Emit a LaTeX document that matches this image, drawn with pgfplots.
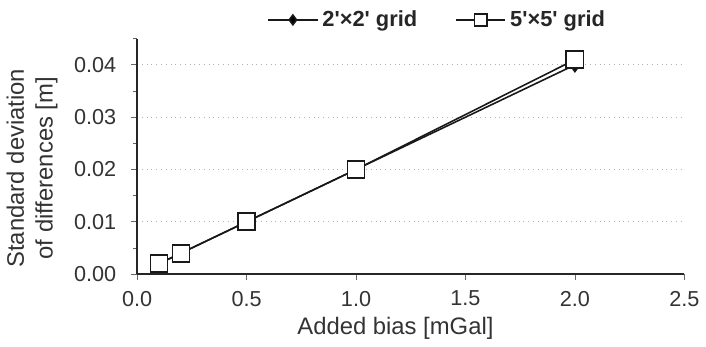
\documentclass[border=0pt]{standalone}
\usepackage{fontspec}
\setmainfont{Liberation Sans}
\usepackage{pgfplots}
\pgfplotsset{compat=1.18}
\begin{document}
\begin{tikzpicture}
\begin{axis}[
  name=ax,
  scale only axis,
  width=275.5pt, height=118.5pt,
  xmin=0, xmax=2.5, ymin=0, ymax=0.045,
  axis lines=left,
  axis line style={black!85, line width=0.7pt, -},
  xtick={0,0.5,1,1.5,2,2.5},
  ytick={0,0.01,0.02,0.03,0.04},
  minor ytick={0.005,0.015,0.025,0.035,0.045},
  tick align=outside,
  major tick length=3pt, minor tick length=2pt,
  tick style={black!60, line width=0.4pt},
  ymajorgrids,
  grid style={gray!60, dotted, line width=0.6pt},
  /pgf/number format/assume math mode=true,
  xticklabel style={yshift=-2pt, /pgf/number format/.cd, fixed, fixed zerofill, precision=1},
  yticklabel style={xshift=-4pt, /pgf/number format/.cd, fixed, fixed zerofill, precision=2},
  scaled y ticks=false,
  ticklabel style={font=\fontsize{10.9}{12}\selectfont, text=black!80},
  xlabel={Added bias [mGal]},
  ylabel={Standard deviation\\of differences [m]},
  ylabel style={at={(axis description cs:-0.192,0.45)}, anchor=center, align=center, font=\fontsize{12}{14.5}\selectfont, text=black!80},
  xlabel style={at={(axis description cs:0.472,-0.232)}, anchor=center, font=\fontsize{12}{14}\selectfont, text=black!80},
  legend columns=2,
  legend style={draw=none, at={(0.55,1.08)}, anchor=center, font=\bfseries\fontsize{11}{12}\selectfont, text=black!85, /tikz/every even column/.append style={column sep=17pt}},
  legend image code/.code={\draw[mark repeat=2, mark phase=2, #1] plot coordinates {(0pt,0pt) (12.5pt,0pt) (25pt,0pt)};},
  legend image post style={/tikz/every mark/.append style={scale=0.72}},
]
\addplot[black!90, line width=0.8pt, mark=diamond*, mark size=3.4pt, mark options={solid, fill=black}]
  coordinates {(0.1,0.002) (0.2,0.004) (0.5,0.010) (1.0,0.020) (2.0,0.040)};
\addlegendentry{2\textquotesingle×2\textquotesingle\ grid}
\addplot[black!90, line width=0.8pt, mark=square*, mark size=4.3pt, mark options={solid, fill=white, line width=0.9pt}]
  coordinates {(0.1,0.002) (0.2,0.004) (0.5,0.010) (1.0,0.020) (2.0,0.041)};
\addlegendentry{5\textquotesingle×5\textquotesingle\ grid}
\end{axis}
\path[use as bounding box] ([shift={(-68.5pt,-33.5pt)}]ax.south west) rectangle ([shift={(284.5pt,138pt)}]ax.south west);
\end{tikzpicture}
\end{document}
